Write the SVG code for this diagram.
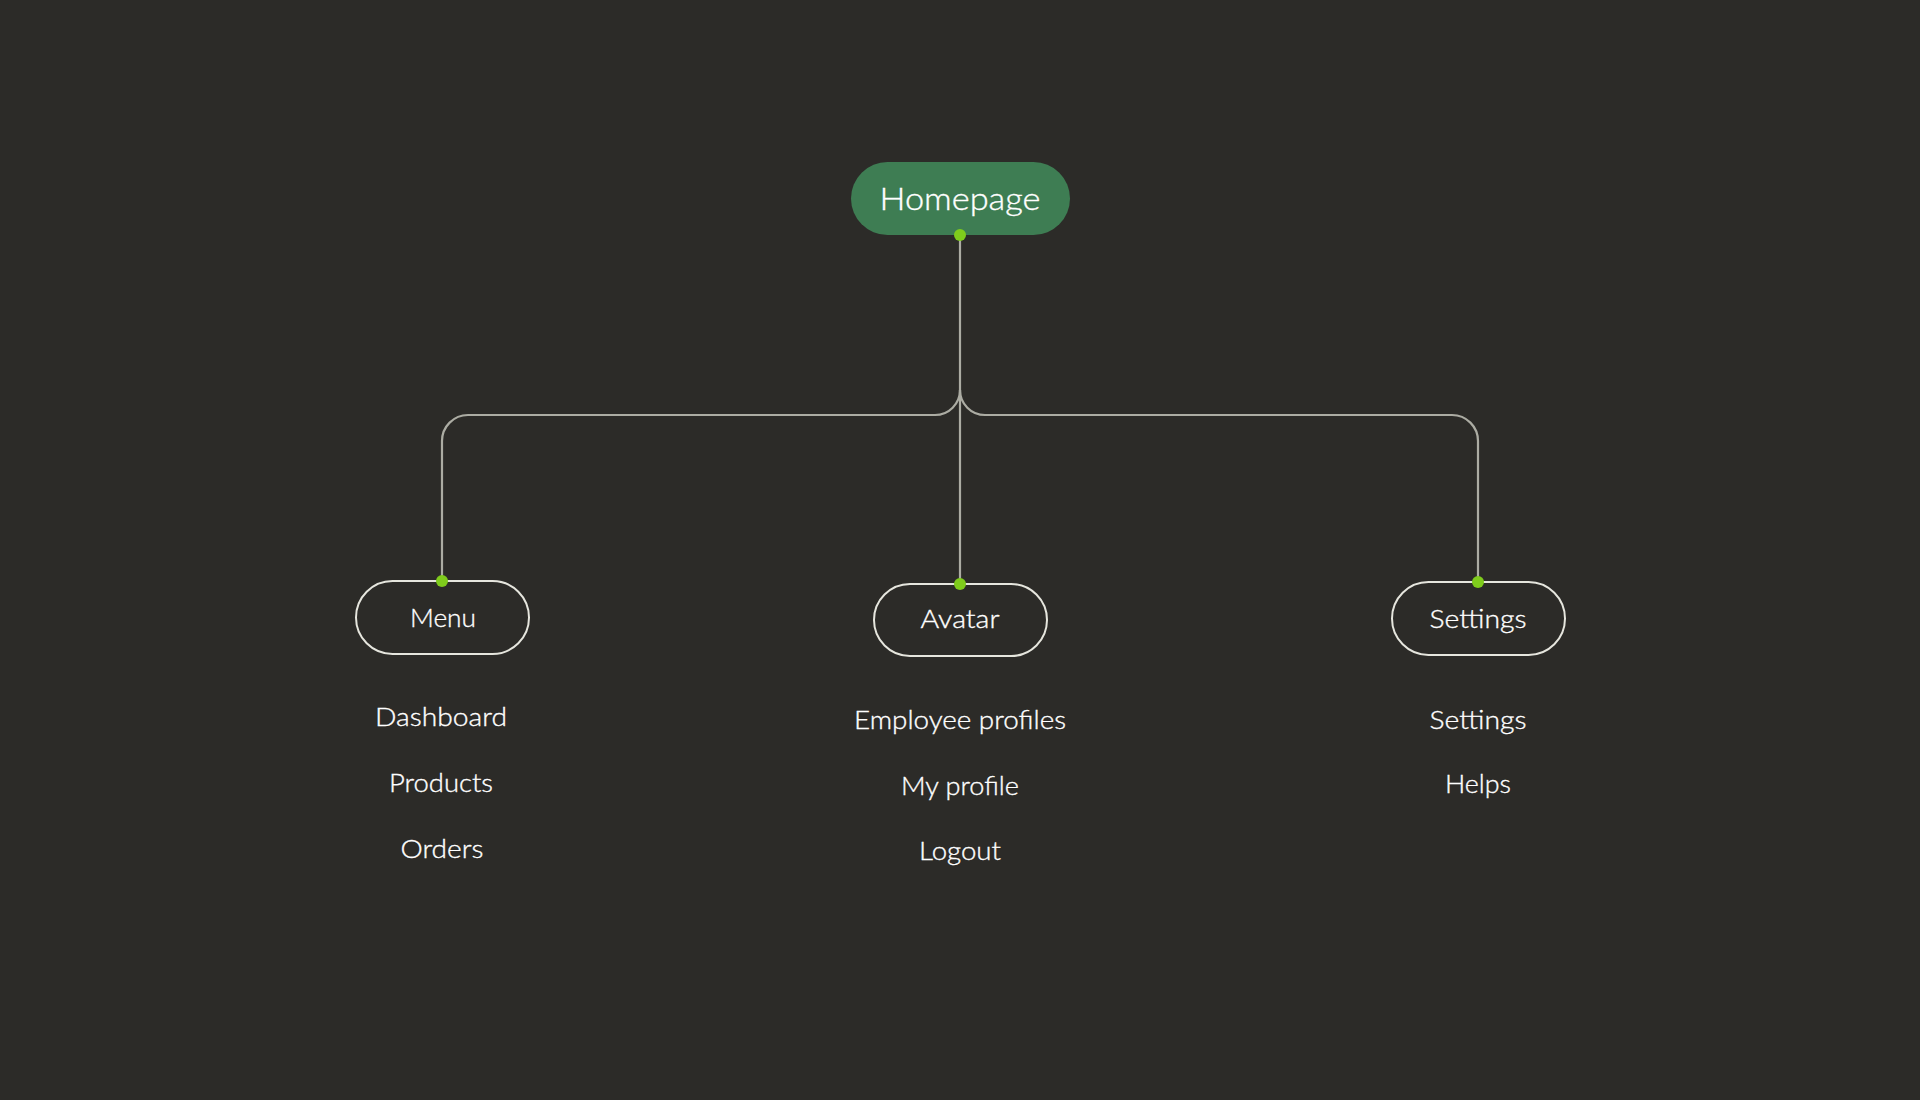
<svg xmlns="http://www.w3.org/2000/svg" width="1920" height="1100" viewBox="0 0 1920 1100">
  <style>
    .bg { fill: #2c2b28; }
    .conn { fill: none; stroke: #acaca3; stroke-width: 2.2; }
    .node { fill: none; stroke: #e6e6de; stroke-width: 2; }
    .root { fill: #3e7d53; }
    .dot { fill: #7fcc1c; }
    text { font-family: Lato, "Liberation Sans", sans-serif; font-weight: 300; fill: #ffffff; stroke: #ffffff; stroke-width: 0.35; text-anchor: middle; }
    .lbl { font-size: 26px; }
    .rootlbl { font-size: 31px; }
  </style>
  <rect class="bg" x="0" y="0" width="1920" height="1100"/>

  <g id="connectors">
    <path class="conn" d="M960 235 V584"/>
    <path class="conn" d="M442 581 V441 A26 26 0 0 1 468 415 H935 A25 25 0 0 0 960 390"/>
    <path class="conn" d="M1478 582 V441 A26 26 0 0 0 1452 415 H985 A25 25 0 0 1 960 390"/>
  </g>

  <g id="node-homepage">
    <rect class="root" x="851" y="162" width="219" height="73" rx="36.5"/>
    <text class="rootlbl" x="960" y="210" textLength="161" lengthAdjust="spacingAndGlyphs">Homepage</text>
    <circle class="dot" cx="960" cy="235" r="6"/>
  </g>

  <g id="node-menu">
    <rect class="node" x="356" y="581" width="173" height="73" rx="36.5"/>
    <text class="lbl" x="443" y="627" textLength="66" lengthAdjust="spacingAndGlyphs">Menu</text>
    <circle class="dot" cx="442" cy="581" r="6"/>
  </g>

  <g id="node-avatar">
    <rect class="node" x="874" y="584" width="173" height="72" rx="36"/>
    <text class="lbl" x="960" y="628" textLength="79" lengthAdjust="spacingAndGlyphs">Avatar</text>
    <circle class="dot" cx="960" cy="584" r="6"/>
  </g>

  <g id="node-settings">
    <rect class="node" x="1392" y="582" width="173" height="73" rx="36.5"/>
    <text class="lbl" x="1478" y="628" textLength="97" lengthAdjust="spacingAndGlyphs">Settings</text>
    <circle class="dot" cx="1478" cy="582" r="6"/>
  </g>

  <g id="items-menu">
    <text class="lbl" x="441" y="726" textLength="132" lengthAdjust="spacingAndGlyphs">Dashboard</text>
    <text class="lbl" x="441" y="792" textLength="104" lengthAdjust="spacingAndGlyphs">Products</text>
    <text class="lbl" x="442" y="858" textLength="83" lengthAdjust="spacingAndGlyphs">Orders</text>
  </g>

  <g id="items-avatar">
    <text class="lbl" x="960" y="729" textLength="212" lengthAdjust="spacingAndGlyphs">Employee profiles</text>
    <text class="lbl" x="960" y="795" textLength="118" lengthAdjust="spacingAndGlyphs">My profile</text>
    <text class="lbl" x="960" y="860" textLength="82" lengthAdjust="spacingAndGlyphs">Logout</text>
  </g>

  <g id="items-settings">
    <text class="lbl" x="1478" y="729" textLength="97" lengthAdjust="spacingAndGlyphs">Settings</text>
    <text class="lbl" x="1478" y="793" textLength="66" lengthAdjust="spacingAndGlyphs">Helps</text>
  </g>
</svg>
